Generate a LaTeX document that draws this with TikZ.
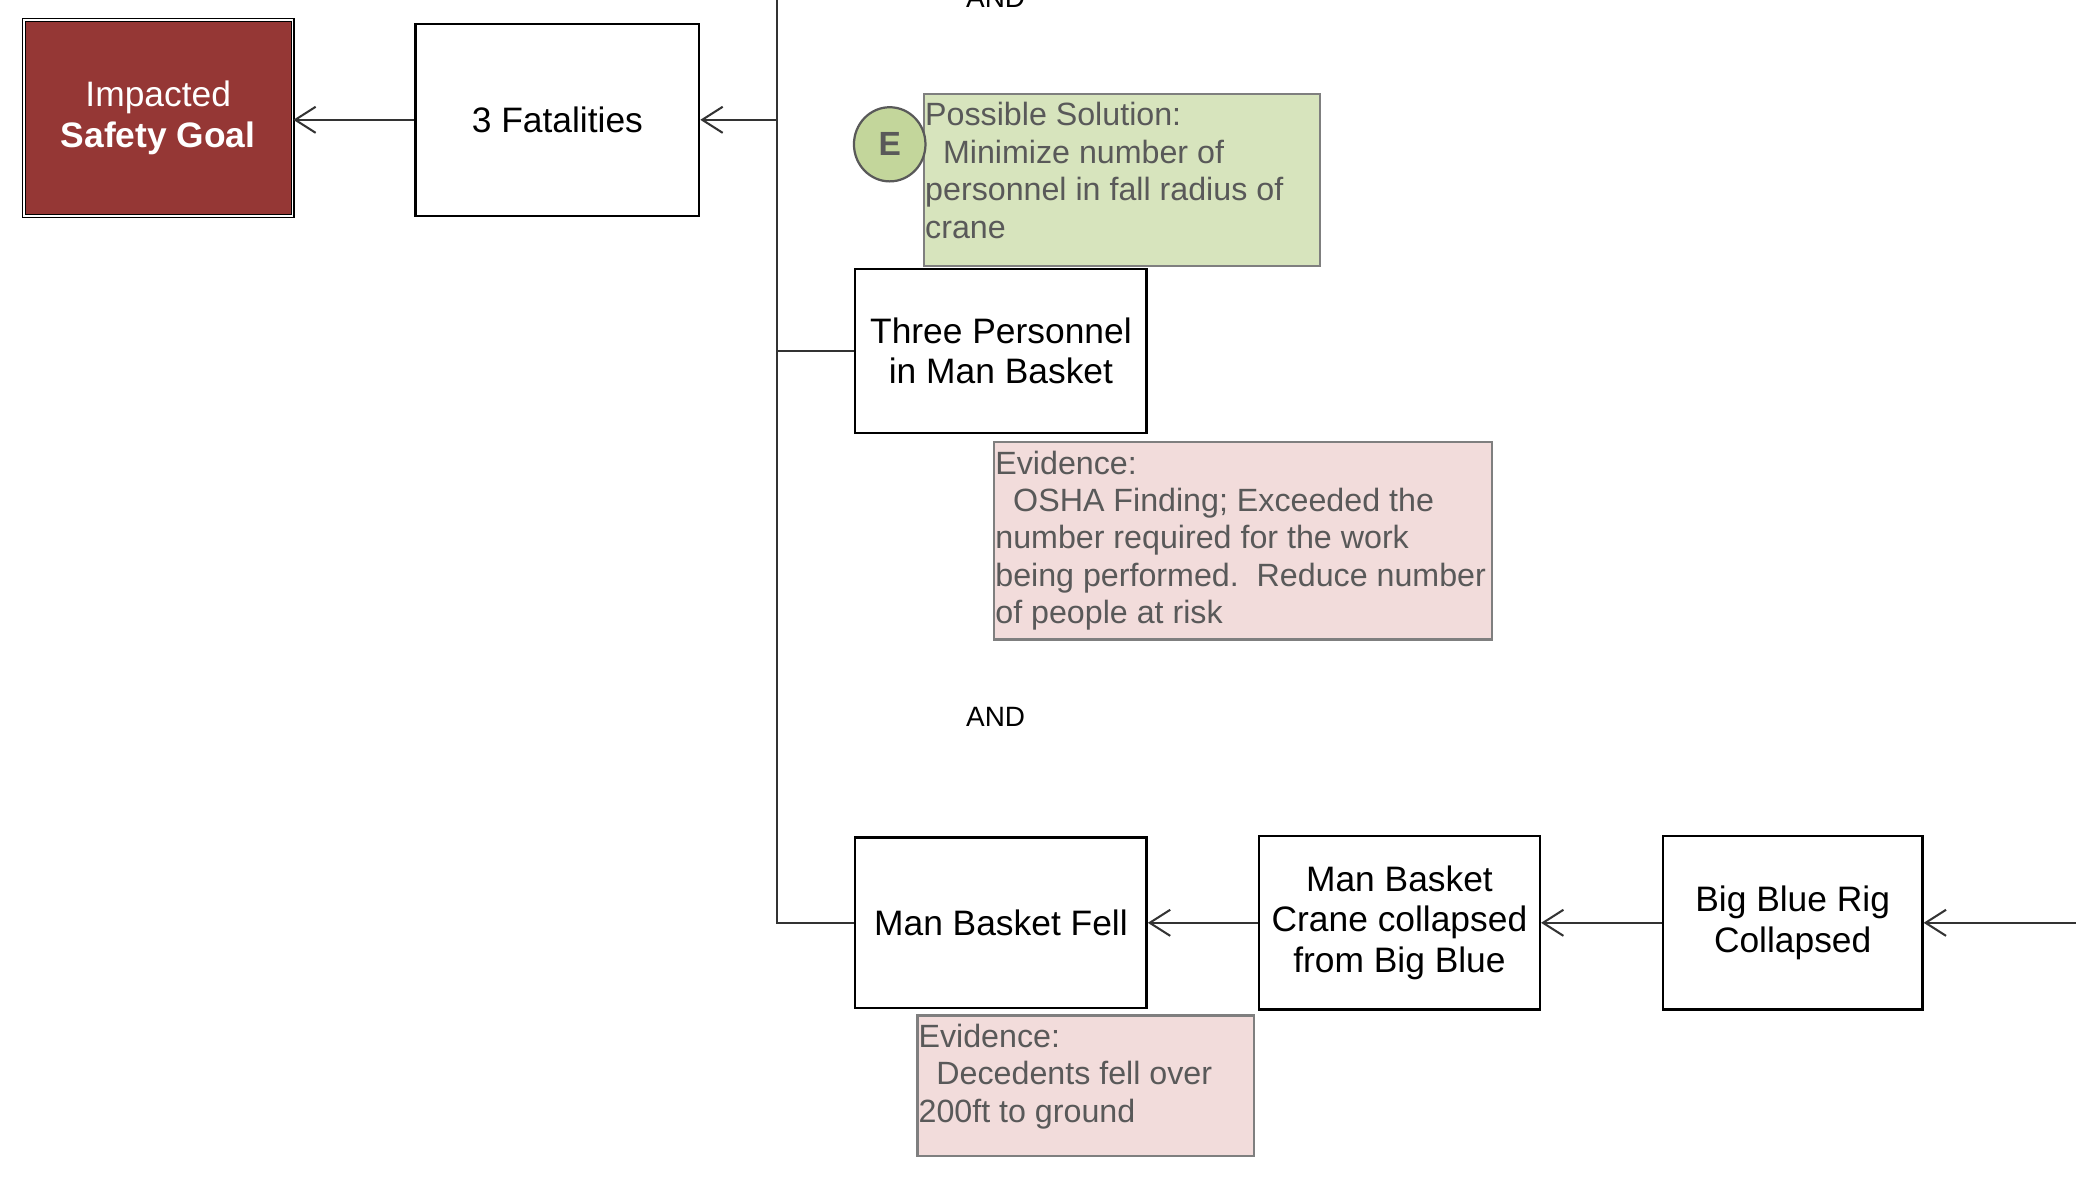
\documentclass[tikz,border=0pt]{standalone}
\usepackage{fontspec}
\setmainfont{Liberation Sans}
\usetikzlibrary{shapes.geometric,arrows.meta}
\definecolor{goalred}{HTML}{953735}
\definecolor{solgreen}{HTML}{D7E4BD}
\definecolor{egreen}{HTML}{C3D69B}
\definecolor{evpink}{HTML}{F2DCDB}
\definecolor{notegray}{HTML}{595959}
\definecolor{rimgray}{HTML}{7F7F7F}
\newcommand\boxfont{\fontsize{19pt}{22pt}\selectfont}
\newcommand\notefont{\fontsize{17.3pt}{20.1pt}\selectfont}
\newcommand\lead{\hspace*{9.6pt}}

\begin{document}
\begin{tikzpicture}[x=0.025cm,y=-0.025cm,
  >={Straight Barb[length=11pt,width=14pt]},
  event/.style={draw, line width=1.3pt, fill=white, align=center, font=\boxfont, inner sep=2pt},
  note/.style={draw=rimgray, line width=1.2pt},
  notetext/.style={anchor=north west, align=left, text=notegray, font=\notefont, inner xsep=1pt, inner ysep=5pt},
  link/.style={line width=1.1pt, draw=black!80}]
\useasboundingbox (0,0) rectangle (1568,906);
\node[draw, line width=0.7pt, double=white, double distance=0.8pt, fill=goalred, text=white, align=center, font=\boxfont, minimum width=5.075cm, minimum height=3.7cm] (goal) at (119.5,89) {Impacted\\\textbf{Safety Goal}};
\node[event, minimum width=5.35cm, minimum height=3.625cm] (fatal) at (421,90.5) {3 Fatalities};
\node[event, minimum width=5.5cm, minimum height=3.1cm] (tp) at (756,265) {Three Personnel\\in Man Basket};
\node[event, minimum width=5.5cm, minimum height=3.225cm] (mbf) at (756,697) {Man Basket Fell};
\node[event, minimum width=5.3cm, minimum height=3.275cm] (crane) at (1057,697) {Man Basket\\Crane collapsed\\from Big Blue};
\node[event, minimum width=4.9cm, minimum height=3.275cm] (bbr) at (1354,697) {Big Blue Rig\\Collapsed};
%
%
\node[anchor=base, font=\fontsize{15pt}{18pt}\selectfont] (and1) at (752,6) {AND};
\node[anchor=base, font=\fontsize{15pt}{18pt}\selectfont] (and2) at (752,549) {AND};
%
%
\node[note, fill=solgreen, minimum width=7.475cm, minimum height=3.25cm] (sol) at (847.5,136) {};
\node[notetext] (soltext) at (sol.north west) {Possible Solution:\\\lead Minimize number of\\personnel in fall radius of\\crane};
\node[ellipse, draw=black!65, line width=1.2pt, fill=egreen, text=notegray, font=\fontsize{18pt}{20pt}\selectfont\bfseries, minimum width=1.35cm, minimum height=1.4cm, inner sep=0pt] (e) at (672,109) {E};
\node[note, fill=evpink, minimum width=9.4cm, minimum height=3.725cm] (ev1) at (939,408.5) {};
\node[notetext] (ev1text) at (ev1.north west) {Evidence:\\\lead OSHA Finding; Exceeded the\\number required for the work\\being performed.\hspace*{9.6pt}Reduce number\\of people at risk};
\node[note, fill=evpink, minimum width=6.35cm, minimum height=2.65cm] (ev2) at (820,820) {};
\node[notetext] (ev2text) at (ev2.north west) {Evidence:\\\lead Decedents fell over\\200ft to ground};
%
%
\coordinate (bustop) at (587,-5);
\coordinate (inright) at (1570,697);
\draw[link] (bustop) -- (bustop |- mbf.west) -- (mbf.west);
\draw[link] (bustop |- tp.west) -- (tp.west);
\draw[link,->] (bustop |- fatal.east) -- (fatal.east);
\draw[link,->] (fatal.west) -- (fatal.west -| goal.east);
\draw[link,->] (crane.west) -- (mbf.east);
\draw[link,->] (bbr.west) -- (crane.east);
\draw[link,->] (inright) -- (bbr.east);
\end{tikzpicture}
\end{document}
